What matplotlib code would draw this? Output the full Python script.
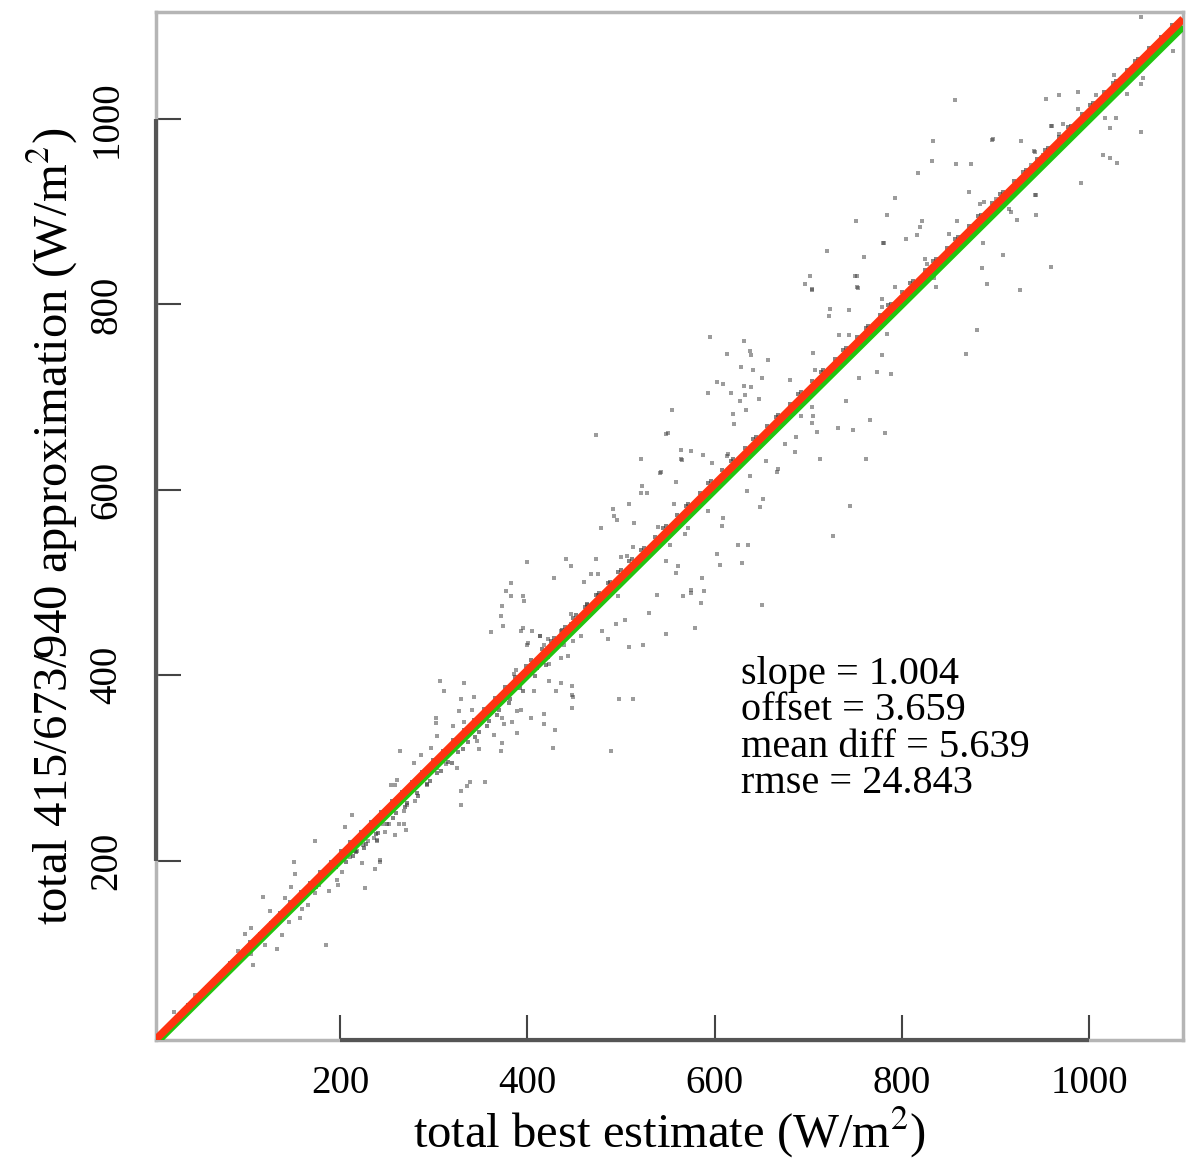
import matplotlib
matplotlib.use('Agg')
import matplotlib.pyplot as plt

plt.rcParams['font.family'] = ['Liberation Serif', 'DejaVu Serif']
plt.rcParams['mathtext.fontset'] = 'stix'

# points hugging the 1:1 line
band_x = [22, 30, 38, 45, 52, 58, 63, 70, 76, 82, 88, 93, 99, 104, 110, 115, 120, 126, 131, 136,
          142, 147, 152, 158, 163, 168, 174, 179, 185, 190, 196, 201, 206, 211, 217, 222, 228, 233,
          238, 244, 250, 255, 260, 266, 271, 277, 282, 288, 293, 299, 304, 310, 315, 321, 326, 332,
          337, 343, 348, 354, 359, 365, 370, 376, 381, 387, 392, 398, 404, 410, 416, 422, 428, 434,
          440, 446, 452, 458, 464, 470, 476, 482, 488, 494, 500, 506, 512, 518, 524, 530, 536, 542,
          548, 554, 560, 566, 572, 578, 584, 590, 596, 602, 608, 614, 620, 626, 632, 638, 644, 650,
          656, 662, 668, 674, 680, 686, 692, 698, 704, 710, 716, 722, 728, 734, 740, 746, 752, 758,
          764, 770, 776, 782, 788, 794, 800, 806, 812, 818, 824, 830, 836, 842, 848, 854, 860, 866,
          872, 878, 884, 890, 896, 902, 908, 914, 920, 926, 932, 938, 944, 950, 956, 962, 968, 974,
          980, 986, 992, 998, 1004, 1010, 1016, 1022, 1028, 1034, 1040, 1046, 1052, 1058, 1064, 1070,
          1076, 1082, 1088,
          214, 226, 241, 256, 269, 283, 296, 308, 319, 331, 344, 357, 368, 380, 395, 408, 420, 425,
          437, 449, 461, 473, 486, 497, 509, 521, 545, 569, 593, 617, 641, 665, 689, 713, 737, 761,
          785, 809, 833, 857, 881, 905, 929, 953, 977, 1001, 1025, 1049]
band_y = [27, 33, 44, 48, 54, 64, 66, 76, 78, 90, 92, 98, 101, 112, 113, 121, 122, 133, 134, 143,
          144, 155, 153, 166, 164, 176, 172, 188, 183, 199, 193, 210, 198, 220, 209, 231, 218, 242,
          229, 252, 240, 264, 251, 274, 262, 285, 273, 296, 283, 308, 294, 318, 306, 330, 317, 341,
          328, 352, 339, 364, 351, 375, 362, 387, 374, 398, 386, 410, 416, 408, 428, 420, 440, 433,
          452, 445, 465, 457, 477, 469, 489, 481, 501, 493, 513, 505, 525, 517, 537, 529, 549, 541,
          561, 553, 573, 565, 585, 577, 597, 589, 609, 601, 621, 613, 633, 625, 645, 637, 657, 649,
          669, 661, 681, 673, 693, 685, 705, 697, 717, 709, 729, 721, 741, 733, 753, 745, 765, 757,
          777, 769, 789, 781, 801, 793, 813, 805, 825, 817, 837, 829, 849, 841, 861, 853, 873, 865,
          885, 877, 897, 889, 909, 901, 921, 913, 933, 925, 945, 937, 957, 949, 969, 961, 981, 973,
          993, 985, 1005, 997, 1017, 1009, 1029, 1021, 1041, 1033, 1053, 1045, 1065, 1057, 1077, 1069,
          1089, 1081, 1101,
          205, 214, 230, 246, 258, 270, 286, 297, 305, 320, 333, 345, 357, 370, 383, 399, 411, 437,
          449, 462, 474, 486, 499, 511, 523, 535, 559, 583, 607, 631, 655, 679, 703, 727, 751, 775,
          799, 823, 847, 871, 895, 919, 943, 967, 991, 1015, 1039, 1063]

# scattered points off the line
scat_x = [213, 205, 173, 151, 152, 148, 118, 141, 125, 105, 98, 133, 138, 120, 107, 105, 185, 227,
          237, 243, 223, 239, 252, 268, 259, 198, 188, 197, 173, 177, 157, 159, 145, 91, 45, 23, 70,
          211, 216, 230, 248, 202, 166,
          372, 374, 361, 395, 405, 413, 418, 400, 439, 447, 307, 332, 311, 329, 343, 327, 341, 302,
          302, 332, 321, 304, 264, 297, 286, 279, 259, 261, 273, 280, 272, 293, 304, 313, 325, 336,
          339, 355, 329, 268, 263, 270, 246, 236, 239, 225, 218, 243, 386, 388, 389, 393, 373, 384,
          389, 375, 364, 372, 373, 346, 348, 404, 418, 427, 407, 423, 436, 431, 448, 448, 423, 436,
          443, 329, 254,
          554, 473, 548, 564, 575, 588, 564, 521, 542, 559, 597, 522, 521, 528, 509, 557, 491, 493,
          496, 479, 514, 539, 572, 568, 593, 609, 608, 613, 552, 513, 506, 500, 473, 441, 400, 447,
          468, 475, 460, 428, 383, 377, 382, 395, 396, 373, 393, 401, 414, 422, 436, 447, 464, 475,
          497, 480, 486, 457, 449, 495, 504, 530, 509, 523, 538, 566, 575, 585, 586, 561, 559, 548,
          602, 606, 579, 548,
          720, 759, 781, 702, 696, 704, 750, 753, 723, 722, 743, 779, 779, 595, 631, 613, 638, 639,
          657, 628, 641, 650, 602, 609, 631, 639, 593, 617, 632, 627, 647, 680, 705, 707, 733, 743,
          754, 779, 773, 788, 784, 633, 620, 621, 550, 565, 543, 704, 705, 692, 704, 709, 732, 748,
          766, 782, 740, 687, 675, 686, 712, 761, 655, 666, 638, 614,
          857, 954, 959, 833, 896, 927, 941, 832, 858, 874, 817, 871, 792, 883, 784, 751, 821, 859,
          819, 816, 850, 804, 780, 752, 752, 704, 793, 825, 827, 834, 836, 886, 908, 885, 891, 926,
          959, 943, 943, 923, 916, 888,
          1055, 1089, 1057, 1055, 1026, 988, 968, 1040, 1007, 988, 1017, 1028, 1022, 1055, 960, 972,
          968, 897, 942, 950, 1014, 1022, 1029, 938, 991, 942, 914, 900,
          880, 868, 651, 629, 498, 513, 489, 429, 448, 449, 418, 636, 625, 648, 652, 668, 634, 575,
          589, 744, 726]
scat_y = [249, 236, 221, 198, 185, 171, 161, 160, 146, 127, 121, 105, 120, 109, 87, 99, 109, 170,
          191, 198, 197, 222, 239, 239, 228, 174, 167, 179, 165, 174, 138, 148, 134, 102, 55, 37, 69,
          204, 210, 221, 231, 188, 152,
          464, 453, 447, 451, 448, 442, 433, 433, 433, 455, 394, 392, 383, 374, 376, 361, 363, 354,
          348, 350, 345, 334, 318, 321, 314, 305, 282, 287, 273, 264, 260, 282, 300, 304, 300, 280,
          285, 285, 260, 253, 239, 233, 239, 224, 221, 217, 210, 201, 401, 406, 361, 363, 354, 350,
          338, 347, 336, 318, 327, 329, 320, 354, 347, 321, 383, 394, 392, 383, 379, 365, 412, 419,
          421, 275, 282,
          686, 659, 660, 643, 642, 638, 633, 633, 618, 608, 629, 604, 597, 597, 585, 585, 579, 572,
          567, 559, 564, 560, 559, 552, 577, 570, 561, 637, 541, 538, 529, 527, 525, 525, 522, 518,
          509, 509, 501, 505, 499, 491, 485, 485, 480, 475, 448, 435, 442, 439, 448, 466, 476, 487,
          485, 448, 439, 442, 437, 455, 460, 467, 430, 433, 487, 485, 492, 478, 505, 518, 510, 523,
          531, 519, 451, 444,
          858, 851, 866, 831, 822, 816, 831, 818, 795, 788, 794, 806, 797, 765, 761, 747, 750, 745,
          740, 732, 729, 721, 716, 714, 712, 711, 704, 704, 702, 696, 698, 719, 748, 729, 767, 767,
          721, 745, 727, 725, 768, 686, 682, 671, 661, 632, 619, 689, 680, 680, 672, 662, 667, 665,
          675, 661, 696, 657, 649, 641, 633, 633, 631, 619, 615, 639,
          1021, 1022, 992, 976, 977, 976, 965, 955, 952, 952, 942, 921, 915, 908, 897, 890, 890, 890,
          884, 875, 876, 871, 866, 831, 819, 817, 819, 849, 844, 828, 819, 866, 853, 839, 822, 816,
          840, 918, 897, 891, 900, 911,
          1110, 1073, 1044, 1038, 1047, 1029, 1026, 1027, 1026, 1011, 1001, 1001, 990, 986, 992, 995,
          984, 978, 964, 961, 961, 958, 953, 950, 931, 918, 903, 914,
          772, 747, 476, 521, 374, 374, 318, 341, 388, 377, 358, 541, 541, 581, 590, 622, 599, 489,
          491, 583, 550]

slope = 1.004
offset = 3.659
stats = ['slope = 1.004', 'offset = 3.659', 'mean diff = 5.639', 'rmse = 24.843']
ticks = [200, 400, 600, 800, 1000]
xlim = (3.5, 1100)
ylim = (6.5, 1115.5)

fig = plt.figure(figsize=(11.89, 11.63), dpi=100)
ax = fig.add_axes([0.1312, 0.1058, 0.8638, 0.8839])

ax.scatter(band_x, band_y, s=6, marker='s', color='#333333', alpha=0.6, linewidths=0, zorder=2)
ax.scatter(scat_x, scat_y, s=5, marker='s', color='#3a3a3a', alpha=0.5, linewidths=0, zorder=2)

# 1:1 line and the fit
ax.plot(xlim, xlim, color='#22c40f', lw=5.5, solid_capstyle='butt', zorder=3)
ax.plot(xlim, [slope * v + offset for v in xlim], color='#ff3311', lw=5.5,
        solid_capstyle='butt', zorder=4)

ax.set_xlim(*xlim)
ax.set_ylim(*ylim)
ax.set_xticks(ticks)
ax.set_yticks(ticks)
ax.tick_params(direction='in', length=18, width=1.5, color='#444444', labelsize=28)
ax.tick_params(axis='x', pad=18)
ax.tick_params(axis='y', pad=22)
for lab in ax.get_yticklabels():
    lab.set_rotation(90)
    lab.set_va('center')

# light frame + dark range segments
for s in ax.spines.values():
    s.set_color('#b5b5b5')
    s.set_linewidth(2.5)
ax.plot([0, 0], [ticks[0], ticks[-1]], transform=ax.get_yaxis_transform(), color='#555555',
        lw=3, clip_on=False, zorder=5, solid_capstyle='butt')
ax.plot([ticks[0], ticks[-1]], [0, 0], transform=ax.get_xaxis_transform(), color='#555555',
        lw=3, clip_on=False, zorder=5, solid_capstyle='butt')

ax.set_xlabel(r'total best estimate (W/m$^2$)', fontsize=35, labelpad=2)
ax.set_ylabel(r'total 415/673/940 approximation (W/m$^2$)', fontsize=35, labelpad=6)

ax.text(628, 421, '\n'.join(stats), fontsize=29, va='top', ha='left', linespacing=0.98)

fig.savefig('out.png', dpi=100)
